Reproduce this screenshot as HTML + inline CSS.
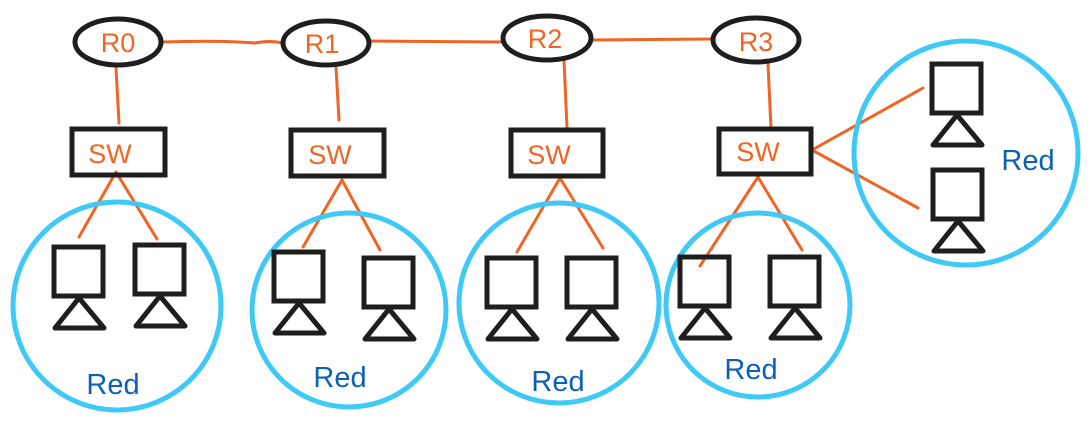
<!DOCTYPE html>
<html><head><style>html,body{margin:0;padding:0;background:#fff;width:1090px;height:428px;overflow:hidden}</style></head>
<body>
<svg width="1090" height="428" xmlns="http://www.w3.org/2000/svg" font-family="Liberation Sans, sans-serif">
<defs>
<g id="pc">
<rect x="0" y="0" width="49" height="49" fill="none" stroke="#1e1e1e" stroke-width="5"/>
<polygon points="25,51 1,81 50,81" fill="none" stroke="#1e1e1e" stroke-width="5" stroke-linejoin="round"/>
</g>
</defs>
<g stroke="#f06424" stroke-width="3" fill="none" stroke-linecap="round">
<path d="M162,42 Q220,40 255,43 Q270,40 282,43"/>
<path d="M370,41 L502,42"/>
<path d="M592,40 L712,39"/>
<path d="M116,68 L119,123"/>
<path d="M336,67 L339,120"/>
<path d="M564,60 L567,128"/>
<path d="M768,64 L771,128"/>
<path d="M116,172 L79,237 M116,172 L157,239"/>
<path d="M342,180 L303,247 M342,180 L380,250"/>
<path d="M560,178 L517,252 M560,178 L603,248"/>
<path d="M758,177 L700,266 M758,177 L802,250"/>
<path d="M812,150 L923,88 M812,150 L918,208"/>
</g>
<g stroke="#1e1e1e" stroke-width="5" fill="none">
<ellipse cx="118" cy="42" rx="43" ry="23"/>
<ellipse cx="326" cy="43" rx="43" ry="22"/>
<ellipse cx="547" cy="38" rx="44" ry="22"/>
<ellipse cx="756" cy="40" rx="43" ry="22"/>
<rect x="72" y="129" width="93" height="46"/>
<rect x="291" y="130" width="93" height="46"/>
<rect x="511" y="130" width="92" height="46"/>
<rect x="719" y="129" width="92" height="45"/>
</g>
<g stroke="#3ec9f7" stroke-width="5" fill="none">
<circle cx="117" cy="306" r="104"/>
<circle cx="349" cy="310" r="97"/>
<circle cx="559" cy="303" r="100"/>
<circle cx="758" cy="305" r="92"/>
<circle cx="966" cy="153" r="112"/>
</g>
<use href="#pc" x="54" y="247"/>
<use href="#pc" x="135" y="245"/>
<use href="#pc" x="274" y="252"/>
<use href="#pc" x="364" y="258"/>
<use href="#pc" x="487" y="258"/>
<use href="#pc" x="567" y="258"/>
<use href="#pc" x="680" y="257"/>
<use href="#pc" x="770" y="257"/>
<use href="#pc" x="932" y="64"/>
<use href="#pc" x="933" y="170"/>
<g fill="#f06424" font-size="27" text-anchor="middle">
<text x="118" y="52">R0</text>
<text x="322" y="53">R1</text>
<text x="545" y="48">R2</text>
<text x="756" y="51">R3</text>
<text x="110" y="163">SW</text>
<text x="330" y="164">SW</text>
<text x="549" y="164">SW</text>
<text x="758" y="161">SW</text>
</g>
<g fill="#0b60b8" font-size="29" text-anchor="middle">
<text x="113" y="394">Red</text>
<text x="340" y="387">Red</text>
<text x="558" y="391">Red</text>
<text x="751" y="379">Red</text>
<text x="1028" y="170">Red</text>
</g>
</svg>
</body></html>
